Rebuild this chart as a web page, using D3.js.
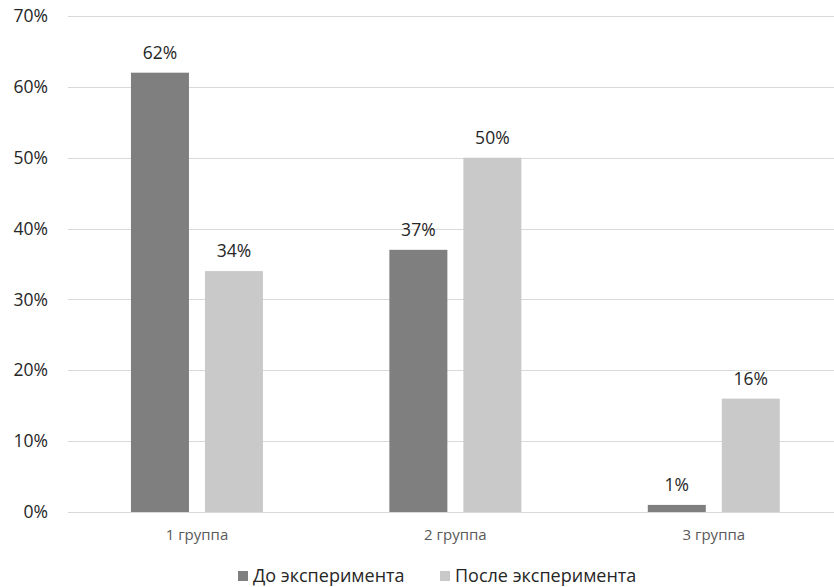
<!DOCTYPE html>
<html>
<head>
<meta charset="utf-8">
<script src="https://cdn.jsdelivr.net/npm/d3@7"></script>
<style>
  body { margin: 0; background: #fff; }
  svg { display: block; font-family: "Open Sans", sans-serif; }
</style>
</head>
<body>
<div id="chart"></div>
<script>
const groups = ['1 группа', '2 группа', '3 группа'];
const seriesNames = ['До эксперимента', 'После эксперимента'];
const before = [62, 37, 1];
const after = [34, 50, 16];
const yTicks = [0, 10, 20, 30, 40, 50, 60, 70];

const colors = ['#7f7f7f', '#c9c9c9'];

const size = { width: 834, height: 587 };
const margin = { left: 67.75, right: -9, top: 16, bottom: 75 };

const rows = groups.map((g, i) => ({ group: g, values: [before[i], after[i]] }));

const svg = d3.select('#chart')
  .append('svg')
  .attr('width', size.width)
  .attr('height', size.height);

const x0 = d3.scaleBand()
  .domain(groups)
  .range([margin.left, size.width - margin.right])
  .padding(0);

const bw = x0.bandwidth();
const x1 = d3.scaleBand()
  .domain(seriesNames)
  .range([bw / 2 - 66, bw / 2 + 66])
  .paddingInner(0.2162);

const y = d3.scaleLinear()
  .domain([0, 70])
  .range([size.height - margin.bottom, margin.top]);

// gridlines
svg.append('g')
  .selectAll('line')
  .data(yTicks)
  .join('line')
  .attr('x1', margin.left)
  .attr('x2', size.width - margin.right)
  .attr('y1', (d) => Math.round(y(d)) + 0.5)
  .attr('y2', (d) => Math.round(y(d)) + 0.5)
  .attr('stroke', '#d9d9d9')
  .attr('stroke-width', 1);

// y labels
svg.append('g')
  .selectAll('text')
  .data(yTicks)
  .join('text')
  .attr('x', 48)
  .attr('y', (d) => y(d))
  .attr('dy', '0.35em')
  .attr('text-anchor', 'end')
  .attr('fill', '#262626')
  .style('font-size', '17.5px')
  .text((d) => `${d}%`);

const g = svg.append('g')
  .selectAll('g')
  .data(rows)
  .join('g')
  .attr('transform', (d) => `translate(${x0(d.group)},0)`);

g.selectAll('rect')
  .data((d) => d.values.map((v, i) => ({ key: seriesNames[i], v, i })))
  .join('rect')
  .attr('x', (d) => x1(d.key))
  .attr('width', x1.bandwidth())
  .attr('y', (d) => y(d.v))
  .attr('height', (d) => y(0) - y(d.v))
  .attr('fill', (d) => colors[d.i]);

g.selectAll('text.lab')
  .data((d) => d.values.map((v, i) => ({ key: seriesNames[i], v, i })))
  .join('text')
  .attr('class', 'lab')
  .attr('x', (d) => x1(d.key) + x1.bandwidth() / 2)
  .attr('y', (d) => y(d.v) - 14)
  .attr('text-anchor', 'middle')
  .attr('fill', '#262626')
  .style('font-size', '17.5px')
  .text((d) => `${d.v}%`);

// category labels
svg.append('g')
  .selectAll('text')
  .data(groups)
  .join('text')
  .attr('x', (d) => x0(d) + bw / 2)
  .attr('y', y(0) + 28)
  .attr('text-anchor', 'middle')
  .attr('fill', '#595959')
  .style('font-size', '15px')
  .text((d) => d);

// legend
const legendX = [238, 440];
const legend = svg.append('g')
  .selectAll('g')
  .data(seriesNames)
  .join('g')
  .attr('transform', (d, i) => `translate(${legendX[i]},571)`);

legend.append('rect')
  .attr('width', 10)
  .attr('height', 10)
  .attr('fill', (d, i) => colors[i]);

legend.append('text')
  .attr('x', 15)
  .attr('y', 5)
  .attr('dy', '0.35em')
  .attr('fill', '#262626')
  .style('font-size', '18px')
  .text((d) => d);
</script>
</body>
</html>
